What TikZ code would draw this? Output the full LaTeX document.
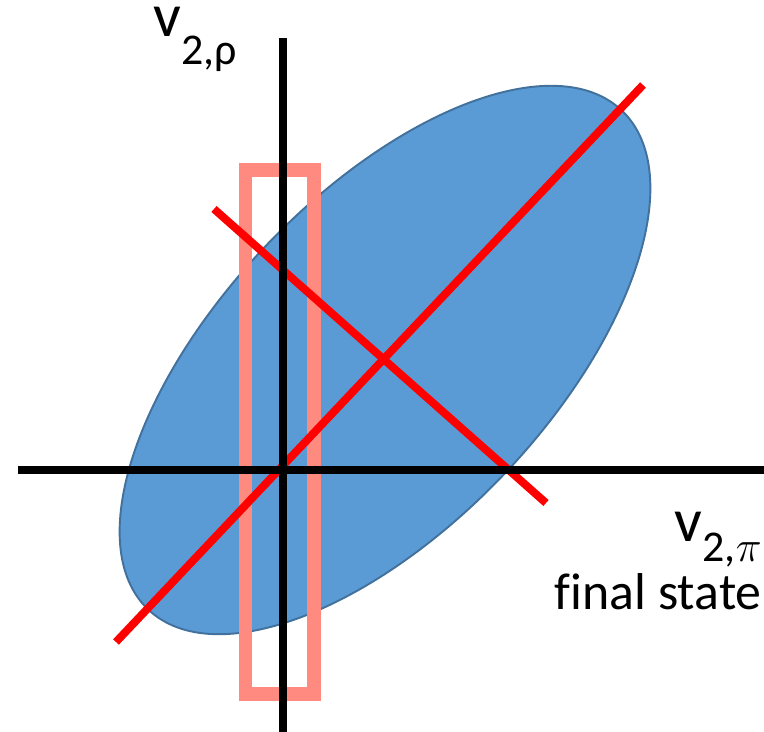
\documentclass[tikz,border=0pt]{standalone}
\usepackage{fontspec}
\setmainfont{Carlito}[Ligatures=NoCommon]
\usepackage{tikz}

\definecolor{blobfill}{HTML}{5B9BD5}
\definecolor{blobedge}{HTML}{41719C}
\definecolor{cutpink}{HTML}{FF8A80}

\newcommand{\labsize}{\fontsize{29.5pt}{31pt}\selectfont}
\newcommand{\velsize}{\fontsize{35pt}{36pt}\selectfont}
\newcommand{\subsize}{\fontsize{25pt}{26pt}\selectfont}

\begin{document}
\begin{tikzpicture}[x=0.02cm, y=-0.02cm]
\tikzstyle{blob} = [fill=blobfill, draw=blobedge, line width=1.1pt]
\tikzstyle{window} = [draw=cutpink, line width=7.6pt]
\tikzstyle{fitline} = [draw=red, line width=4.5pt]
\tikzstyle{axisline} = [draw=black, line width=4.5pt]
\tikzstyle{lbl} = [inner sep=0pt, font=\labsize]

\useasboundingbox (0,0) rectangle (764,732);

% points
\coordinate (c) at (385,360);
\coordinate (xl) at (18,470);
\coordinate (xr) at (764,470);
\coordinate (yt) at (283,38);
\coordinate (yb) at (283,732);
\coordinate (maj1) at (116,642);
\coordinate (maj2) at (643,85);
\coordinate (min1) at (214,209);
\coordinate (min2) at (546,503);
\coordinate (win1) at (245.5,170);
\coordinate (win2) at (314,694);

% distribution
\draw [blob, rotate around={46.5:(c)}] (c) ellipse [x radius=344, y radius=165];

% cut
\draw [window] (win1) rectangle (win2);

% principal axes
\draw [fitline] (maj1) -- (maj2);
\draw [fitline] (min1) -- (min2);

% axes
\draw [axisline] (xl) -- (xr);
\draw [axisline] (yb) -- (yt);

\node (vrho) [lbl, anchor=base west] at (153,37) {{\velsize v}\raisebox{-15.9pt}{\subsize 2,ρ}};
\node (vpi) [lbl, anchor=base east] at (762,542) {{\velsize v}\raisebox{-11.3pt}{\subsize 2,$\pi$}};
\node (fstate) [lbl, anchor=base east] at (762,610) {final state};

\end{tikzpicture}
\end{document}
